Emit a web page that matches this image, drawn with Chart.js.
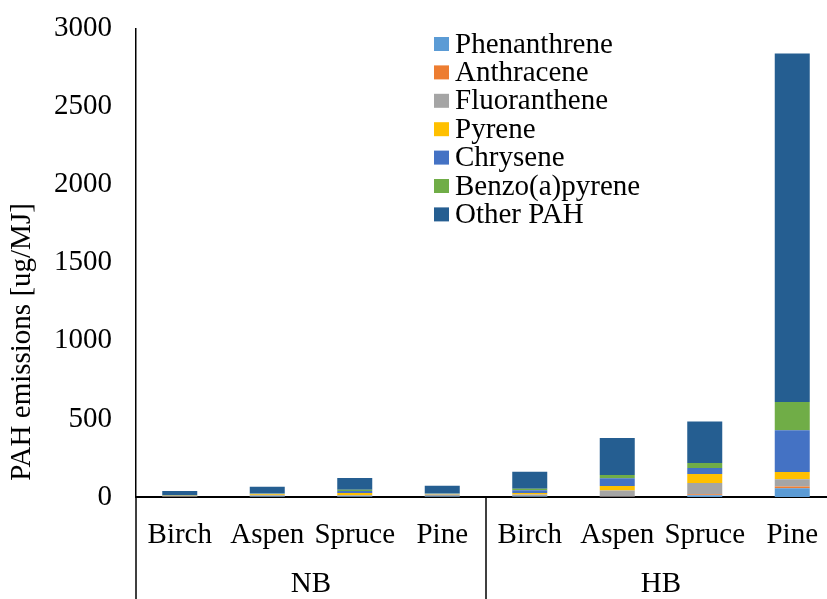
<!DOCTYPE html>
<html>
<head>
<meta charset="utf-8">
<script src="https://cdn.jsdelivr.net/npm/chart.js@4/dist/chart.umd.min.js"></script>
<style>
  html, body { margin: 0; padding: 0; background: #fff; overflow: hidden; }
  #frame { width: 827px; height: 599px; overflow: hidden; }
  #wrap { width: 836px; height: 599px; position: relative; }
</style>
</head>
<body>
<div id="frame"><div id="wrap"><canvas id="pahChart"></canvas></div></div>
<script>
// chart data
const categories = ['Birch', 'Aspen', 'Spruce', 'Pine', 'Birch', 'Aspen', 'Spruce', 'Pine'];
const groups = ['NB', 'HB'];
const phenanthrene = [2, 3, 3, 3, 3, 2, 11, 56];
const anthracene = [0.5, 1, 1, 1, 1, 1, 6, 12];
const fluoranthene = [4, 8, 8, 12, 12, 38, 72, 45];
const pyrene = [1, 5, 14, 4, 10, 30, 58, 47];
const chrysene = [2, 6, 12, 3, 18, 49, 38, 267];
const benzoApyrene = [1, 3, 8, 2, 9, 21, 32, 181];
const otherPah = [28, 40, 75, 47, 108, 237, 267, 2232];
const yTicks = [0, 500, 1000, 1500, 2000, 2500, 3000];
const yTitle = 'PAH emissions [ug/MJ]';

const serif = "'Liberation Serif', 'Times New Roman', serif";
const fontSize = 29;

const series = [
    { label: 'Phenanthrene', data: phenanthrene, color: '#5B9BD5' },
    { label: 'Anthracene', data: anthracene, color: '#ED7D31' },
    { label: 'Fluoranthene', data: fluoranthene, color: '#A5A5A5' },
    { label: 'Pyrene', data: pyrene, color: '#FFC000' },
    { label: 'Chrysene', data: chrysene, color: '#4472C4' },
    { label: 'Benzo(a)pyrene', data: benzoApyrene, color: '#70AD47' },
    { label: 'Other PAH', data: otherPah, color: '#255E91' }
];

// Group labels under the categories + separator lines + axis title
const groupAxis = {
    id: 'groupAxis',
    afterDraw(chart) {
        const { ctx, chartArea, scales: { x } } = chart;
        const bottom = chart.height;
        const perGroup = categories.length / groups.length;
        ctx.save();
        ctx.strokeStyle = '#000';
        ctx.lineWidth = 1.5;
        // y axis line continues down through the label rows
        ctx.beginPath();
        ctx.moveTo(chartArea.left, chartArea.bottom);
        ctx.lineTo(chartArea.left, bottom);
        ctx.stroke();
        ctx.font = fontSize + 'px ' + serif;
        ctx.fillStyle = '#000';
        ctx.textAlign = 'center';
        ctx.textBaseline = 'middle';
        groups.forEach((g, i) => {
            const first = i * perGroup;
            const last = first + perGroup - 1;
            const left = first === 0 ? chartArea.left : (x.getPixelForValue(first - 1) + x.getPixelForValue(first)) / 2;
            const right = last === categories.length - 1 ? chartArea.right : (x.getPixelForValue(last) + x.getPixelForValue(last + 1)) / 2;
            if (i > 0) {
                ctx.beginPath();
                ctx.moveTo(left, chartArea.bottom);
                ctx.lineTo(left, bottom);
                ctx.stroke();
            }
            ctx.fillText(g, (left + right) / 2, chartArea.bottom + 87);
        });
        // rotated y title, sits lower than the plot middle in the original
        ctx.translate(22, 342);
        ctx.rotate(-Math.PI / 2);
        ctx.fillText(yTitle, 0, 0);
        ctx.restore();
    }
};

// Legend placed inside the plot like the original
const insideLegend = {
    id: 'insideLegend',
    afterDraw(chart) {
        const { ctx } = chart;
        ctx.save();
        ctx.font = fontSize + 'px ' + serif;
        ctx.textBaseline = 'middle';
        ctx.textAlign = 'left';
        chart.data.datasets.forEach((ds, i) => {
            const y = 44 + i * 28.4;
            ctx.fillStyle = ds.backgroundColor;
            ctx.fillRect(434, y - 7, 15, 14);
            ctx.fillStyle = '#000';
            ctx.fillText(ds.label, 455, y + 1);
        });
        ctx.restore();
    }
};

const ctx = document.getElementById('pahChart').getContext('2d');
new Chart(ctx, {
    type: 'bar',
    data: {
        labels: categories,
        datasets: series.map(s => ({
            label: s.label,
            data: s.data,
            backgroundColor: s.color,
            borderWidth: 0,
            categoryPercentage: 1,
            barPercentage: 0.4
        }))
    },
    options: {
        responsive: true,
        maintainAspectRatio: false,
        animation: false,
        layout: { padding: { top: 28.5, right: 0, left: 0, bottom: 0 } },
        plugins: {
            legend: { display: false },
            tooltip: { enabled: false }
        },
        scales: {
            x: {
                stacked: true,
                grid: { display: false, drawTicks: false },
                border: { display: true, color: '#000', width: 2 },
                ticks: {
                    color: '#000',
                    font: { family: serif, size: fontSize },
                    padding: 21,
                    maxRotation: 0,
                    autoSkip: false
                },
                afterFit(scale) {
                    scale.height = 102;
                    scale.paddingLeft = 0;
                    scale.paddingRight = 0;
                }
            },
            y: {
                stacked: true,
                min: 0,
                max: 3000,
                afterBuildTicks(scale) { scale.ticks = yTicks.map(v => ({ value: v })); },
                grid: { display: false, drawTicks: false },
                border: { display: true, color: '#000', width: 1.5 },
                ticks: {
                    color: '#000',
                    font: { family: serif, size: fontSize },
                    padding: 24,
                    callback: v => String(v)
                },
                afterFit(scale) {
                    scale.width = 136;
                    scale.paddingTop = 0;
                    scale.paddingBottom = 0;
                }
            }
        }
    },
    plugins: [groupAxis, insideLegend]
});
</script>
</body>
</html>
